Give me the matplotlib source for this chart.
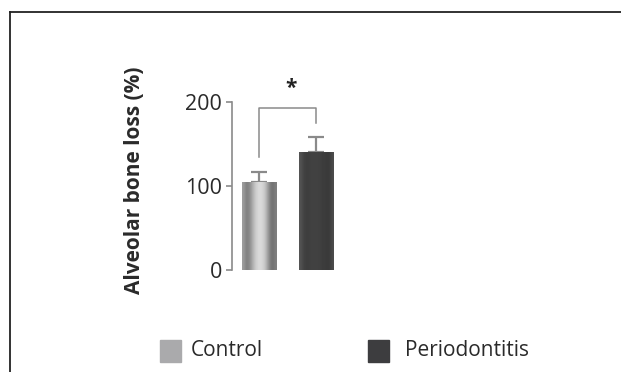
import numpy as np
import matplotlib.pyplot as plt
from matplotlib.lines import Line2D

# data
groups = ["Control", "Periodontitis"]
values = [105, 140]
errors = [12, 18]
bar_colors = ["#aaaaac", "#3d3d3f"]

fig = plt.figure(figsize=(6.21, 3.72), dpi=100)
plt.rcParams['font.family'] = ['Open Sans', 'DejaVu Sans']

# frame lines (cropped box at top/left)
fig.add_artist(Line2D([10 / 621, 1], [1 - 12 / 372, 1 - 12 / 372], color="#222222", lw=1.3))
fig.add_artist(Line2D([10 / 621, 10 / 621], [0, 1 - 12 / 372], color="#222222", lw=1.3))

ax = fig.add_axes([232 / 621, 102 / 372, 108 / 621, 168 / 372])
x = np.arange(len(groups))
bars = ax.bar(x, values, width=0.6, color=bar_colors, zorder=2)

# cylinder-like shading inside each bar
grad_ctrl = np.array([0.62, 0.48, 0.55, 0.7, 0.82, 0.86, 0.84, 0.74, 0.55, 0.42, 0.5])
grad_perio = np.array([0.33, 0.26, 0.24, 0.25, 0.26, 0.26, 0.25, 0.24, 0.23, 0.22, 0.3])
for b, g in zip(bars, [grad_ctrl, grad_perio]):
    x0, y0 = b.get_x(), b.get_y()
    w, h = b.get_width(), b.get_height()
    im = ax.imshow(g[None, :], cmap="gray", vmin=0, vmax=1, aspect="auto",
                   extent=[x0, x0 + w, y0, y0 + h], interpolation="bicubic", zorder=3)
    im.set_clip_path(b)

# upper error bars only
ax.errorbar(x, values, yerr=[[0, 0], errors], fmt="none", ecolor="#8a8a8a",
            elinewidth=1.6, capsize=6, capthick=1.6, zorder=1)

# significance bracket
ax.plot([0, 0, 1, 1], [134, 193, 193, 175], color="#8a8a8a", lw=1.1, clip_on=False)
ax.text(0.57, 204, "*", ha="center", va="bottom", fontsize=15, fontweight="bold",
        color="#222222", clip_on=False)

ax.set_xlim(-0.474, 1.42)
ax.set_ylim(0, 200)
ax.set_yticks([0, 100, 200])
ax.set_xticks([])
for s in ["top", "right", "bottom"]:
    ax.spines[s].set_visible(False)
ax.spines["left"].set_color("#8a8a8a")
ax.spines["left"].set_linewidth(1.2)
ax.tick_params(axis="y", colors="#8a8a8a", length=4, width=1.2, pad=3,
               labelcolor="#2a2a2a", labelsize=15.5)

fig.text(134 / 621, 1 - 180 / 372, "Alveolar bone loss (%)", rotation=90,
         ha="center", va="center", fontsize=15, fontweight="bold", color="#2a2a2a")

# legend drawn as squares and labels below the plot
leg_x = [160, 368]
text_x = [191, 405]
for gx, tx, lab, col in zip(leg_x, text_x, groups, bar_colors):
    fig.patches.append(plt.Rectangle((gx / 621, 1 - 362 / 372), 21 / 621, 22 / 372,
                                     transform=fig.transFigure, color=col, figure=fig))
    fig.text(tx / 621, 1 - 351 / 372, lab, ha="left", va="center",
             fontsize=15, color="#2a2a2a")

fig.savefig("out.png", dpi=100)
